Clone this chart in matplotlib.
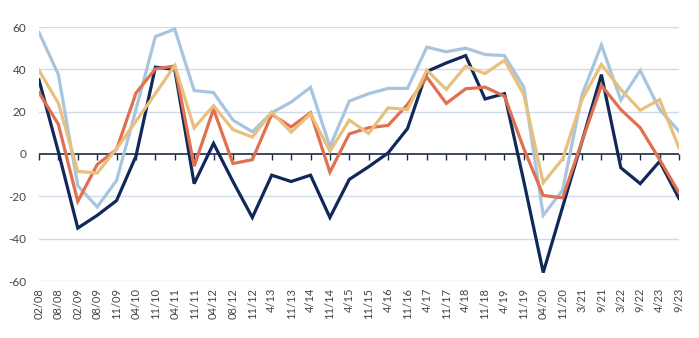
import matplotlib
matplotlib.use("Agg")
import matplotlib.pyplot as plt
import matplotlib.transforms as mtransforms

plt.rcParams['font.family'] = ['Lato', 'DejaVu Sans']

labels = ['02/08', '08/08', '02/09', '08/09', '11/09', '04/10', '11/10', '04/11',
          '11/11', '04/12', '08/12', '11/12', '4/13', '11/13', '4/14', '11/14',
          '4/15', '11/15', '4/16', '11/16', '4/17', '11/17', '4/18', '11/18',
          '4/19', '11/19', '04/20', '11/20', '3/21', '9/21', '3/22', '9/22',
          '4/23', '9/23']

series_navy = [35, 1, -35, -29, -22, -1, 41, 40, -14, 5, -13, -30, -10, -13, -10, -30,
               -12, -6, 0.5, 12, 39, 43, 46.5, 26, 28.5, -13, -56, -25, 6, 37.5,
               -6.5, -14, -3.5, -21]
series_lightblue = [57.5, 37.5, -15, -25, -12.5, 21, 55.5, 59, 30, 29, 16, 10.5, 19.5,
                    24.5, 31.5, 3.5, 25, 28.5, 31, 31, 50.5, 48.3, 50, 47, 46.5, 31.5,
                    -29, -17, 28, 51.5, 25.5, 39.5, 21, 10.8]
series_orange = [29, 14, -22.4, -5, 2.2, 28.8, 40.2, 41.6, -5.8, 21.2, -4.5, -2.7, 18.7,
                 12.8, 19.5, -8.6, 9.5, 12.4, 13.5, 23.4, 36.3, 23.9, 30.8, 31.6, 27.3,
                 2.5, -19.6, -20.7, 6, 32.4, 21, 12.4, -2.6, -18.3]
series_tan = [39.5, 24, -8.2, -9, 2.5, 15.5, 28.5, 41.8, 12.3, 22.8, 11.5, 8, 19.8, 10.3,
              19, 1.3, 16, 9.7, 21.8, 21, 39.6, 30.5, 41.5, 38, 44.3, 28, -13.6, -2.3,
              25.7, 42.3, 30.5, 20.7, 25.7, 2.9]

yticks = [-60, -40, -20, 0, 20, 40, 60]

fig = plt.figure(figsize=(6.99, 3.38), dpi=100)
ax = fig.add_axes([39/699, 1 - 281/338, 640/699, 254/338])

x = list(range(len(labels)))
lw = 2.3
ax.plot(x, series_lightblue, color='#a8c5e0', lw=lw, zorder=3, solid_joinstyle='miter')
ax.plot(x, series_navy, color='#10295a', lw=lw, zorder=4, solid_joinstyle='miter')
ax.plot(x, series_orange, color='#e0704f', lw=lw, zorder=5, solid_joinstyle='miter')
ax.plot(x, series_tan, color='#e8c07c', lw=lw, zorder=6, solid_joinstyle='miter')

ax.set_xlim(0, len(labels) - 1)
ax.set_ylim(-60, 60)
ax.set_yticks(yticks)
ax.set_yticklabels([str(v) for v in yticks], fontsize=8.5, color='#454545')
ax.tick_params(axis='y', length=0, pad=9)

for v in yticks:
    if v != 0:
        ax.axhline(v, color='#cfdbe8', lw=1.0, zorder=1)
ax.axhline(0, color='#1c2a44', lw=1.2, zorder=2)

for s in ax.spines.values():
    s.set_visible(False)

# tick marks on the zero line
ax.spines['bottom'].set_position(('data', 0))
ax.set_xticks(x)
ax.set_xticklabels([])
ax.tick_params(axis='x', direction='out', length=4, width=1.0, color='#1c2a44')

trans = mtransforms.blended_transform_factory(ax.transData, ax.transAxes)
offset = mtransforms.ScaledTranslation(0, -7/100, fig.dpi_scale_trans)
for xi, lab in zip(x, labels):
    ax.text(xi, 0, lab, transform=trans + offset, rotation=90, ha='center', va='top',
            fontsize=8, color='#454545')

fig.savefig('out.png', dpi=100)
